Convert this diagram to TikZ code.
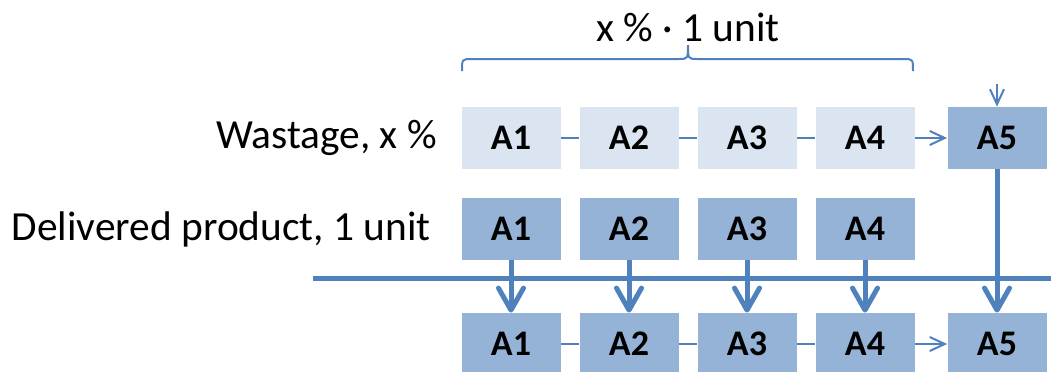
\documentclass[tikz,border=0pt]{standalone}
\usepackage{fontspec}
\setmainfont{Carlito}
\usepackage{tikz}
\usetikzlibrary{arrows.meta, positioning}
\definecolor{boxlight}{HTML}{DBE5F1}
\definecolor{boxdark}{HTML}{95B3D7}
\definecolor{flowline}{HTML}{4F81BD}

\begin{document}
\begin{tikzpicture}[x=0.5pt,y=-0.5pt,
  waste/.style={fill=boxlight,minimum width=49.5pt,minimum height=31pt,inner sep=0pt,font=\fontsize{18}{22}\selectfont\bfseries},
  deliv/.style={waste,fill=boxdark},
  lbl/.style={inner sep=0pt,font=\fontsize{20.7}{25}\selectfont},
  thin/.style={draw=flowline,line width=1pt},
  thick/.style={draw=flowline,line width=2.5pt},
  thinarrow/.style={thin,-{Straight Barb[length=7.5pt,width=7pt]}},
  thickarrow/.style={thick,-{Straight Barb[length=11pt,width=12.5pt,round]}}]
\useasboundingbox (0,0) rectangle (1051,371);
\node[lbl,anchor=east] (wlabel) at (437,138) {Wastage, x \%};
\node[lbl,anchor=east] (dlabel) at (431,229) {Delivered product, 1 unit};
\node[lbl] (share) at (688,27) {x \% · 1 unit};
\node[waste] (w1) at (511,138) {A1};
\node[waste] (w2) at (629,138) {A2};
\node[waste] (w3) at (747,138) {A3};
\node[waste] (w4) at (865,138) {A4};
\node[deliv] (w5) at (997,138) {A5};
\node[deliv] (d1) at (511,229) {A1};
\node[deliv] (d2) at (629,229) {A2};
\node[deliv] (d3) at (747,229) {A3};
\node[deliv] (d4) at (865,229) {A4};
\node[deliv] (r1) at (511,344) {A1};
\node[deliv] (r2) at (629,344) {A2};
\node[deliv] (r3) at (747,344) {A3};
\node[deliv] (r4) at (865,344) {A4};
\node[deliv] (r5) at (997,344) {A5};
\coordinate (in5) at (997,84);
\coordinate (lineL) at (313,278);
\coordinate (lineR) at (1051,278);
\draw[thin] (462,71) .. controls (462,59) .. (472,59) -- (678,59) .. controls (688,59) .. (688,45)
  .. controls (688,59) .. (698,59) -- (903,59) .. controls (913,59) .. (913,71);
\draw[thin] (w1)--(w2)--(w3)--(w4);
\draw[thinarrow] (w4)--(w5);
\draw[thinarrow] (in5)--(w5);
\draw[thin] (r1)--(r2)--(r3)--(r4);
\draw[thinarrow] (r4)--(r5);
\draw[thick] (lineL)--(lineR);
\draw[thickarrow] (d1)--(r1);
\draw[thickarrow] (d2)--(r2);
\draw[thickarrow] (d3)--(r3);
\draw[thickarrow] (d4)--(r4);
\draw[thickarrow] (w5)--(r5);
\end{tikzpicture}
\end{document}
